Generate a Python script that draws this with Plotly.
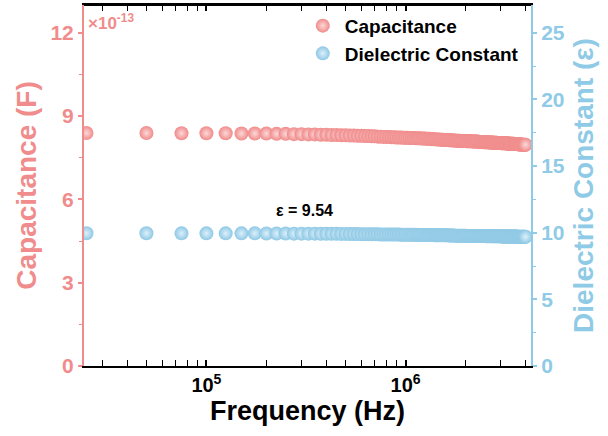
import plotly.graph_objects as go

# Frequency sweep (kHz)
freq_khz = [
    25, 50, 75, 100, 125, 150, 175, 200, 225, 250, 275, 300, 325, 350, 375, 400, 425, 450, 475, 500,
    525, 550, 575, 600, 625, 650, 675, 700, 725, 750, 775, 800, 825, 850, 875, 900, 925, 950, 975, 1000,
    1025, 1050, 1075, 1100, 1125, 1150, 1175, 1200, 1225, 1250, 1275, 1300, 1325, 1350, 1375, 1400, 1425, 1450, 1475, 1500,
    1525, 1550, 1575, 1600, 1625, 1650, 1675, 1700, 1725, 1750, 1775, 1800, 1825, 1850, 1875, 1900, 1925, 1950, 1975, 2000,
    2025, 2050, 2075, 2100, 2125, 2150, 2175, 2200, 2225, 2250, 2275, 2300, 2325, 2350, 2375, 2400, 2425, 2450, 2475, 2500,
    2525, 2550, 2575, 2600, 2625, 2650, 2675, 2700, 2725, 2750, 2775, 2800, 2825, 2850, 2875, 2900, 2925, 2950, 2975, 3000,
    3025, 3050, 3075, 3100, 3125, 3150, 3175, 3200, 3225, 3250, 3275, 3300, 3325, 3350, 3375, 3400, 3425, 3450, 3475, 3500,
    3525, 3550, 3575, 3600, 3625, 3650, 3675, 3700, 3725, 3750, 3775, 3800, 3825, 3850, 3875, 3900, 3925, 3950, 3975, 4000,
]

# Capacitance (x 1e-13 F)
capacitance_e13 = [
    8.39, 8.39, 8.38, 8.38, 8.38, 8.37, 8.37, 8.37, 8.36, 8.36, 8.35, 8.35, 8.34, 8.34, 8.33, 8.33, 8.32, 8.32, 8.31, 8.31,
    8.30, 8.30, 8.29, 8.29, 8.28, 8.28, 8.27, 8.27, 8.26, 8.26, 8.25, 8.25, 8.25, 8.24, 8.24, 8.23, 8.23, 8.23, 8.22, 8.22,
    8.22, 8.21, 8.21, 8.21, 8.20, 8.20, 8.20, 8.19, 8.19, 8.19, 8.18, 8.18, 8.18, 8.17, 8.17, 8.17, 8.16, 8.16, 8.16, 8.15,
    8.15, 8.15, 8.14, 8.14, 8.14, 8.13, 8.13, 8.13, 8.12, 8.12, 8.12, 8.11, 8.11, 8.11, 8.11, 8.10, 8.10, 8.10, 8.10, 8.10,
    8.09, 8.09, 8.09, 8.09, 8.09, 8.09, 8.08, 8.08, 8.08, 8.08, 8.08, 8.08, 8.07, 8.07, 8.07, 8.07, 8.07, 8.07, 8.06, 8.06,
    8.06, 8.06, 8.06, 8.06, 8.05, 8.05, 8.05, 8.05, 8.05, 8.05, 8.04, 8.04, 8.04, 8.04, 8.04, 8.03, 8.03, 8.03, 8.03, 8.03,
    8.02, 8.02, 8.02, 8.02, 8.02, 8.02, 8.02, 8.01, 8.01, 8.01, 8.01, 8.01, 8.01, 8.00, 8.00, 8.00, 8.00, 8.00, 8.00, 8.00,
    7.99, 7.99, 7.99, 7.99, 7.99, 7.99, 7.98, 7.98, 7.98, 7.98, 7.98, 7.98, 7.98, 7.97, 7.97, 7.97, 7.97, 7.97, 7.97, 7.97,
]

# Dielectric constant
dielectric = [
    9.96, 9.96, 9.95, 9.95, 9.95, 9.95, 9.95, 9.94, 9.94, 9.94, 9.93, 9.93, 9.93, 9.93, 9.92, 9.92, 9.92, 9.92, 9.91, 9.91,
    9.90, 9.90, 9.90, 9.89, 9.89, 9.89, 9.88, 9.88, 9.88, 9.87, 9.87, 9.87, 9.87, 9.86, 9.86, 9.86, 9.86, 9.85, 9.85, 9.85,
    9.84, 9.84, 9.84, 9.84, 9.84, 9.83, 9.83, 9.83, 9.83, 9.83, 9.82, 9.82, 9.82, 9.82, 9.82, 9.81, 9.81, 9.81, 9.81, 9.81,
    9.80, 9.80, 9.80, 9.80, 9.80, 9.79, 9.79, 9.79, 9.79, 9.79, 9.78, 9.78, 9.78, 9.78, 9.78, 9.77, 9.77, 9.77, 9.77, 9.77,
    9.76, 9.76, 9.76, 9.76, 9.76, 9.76, 9.76, 9.76, 9.76, 9.76, 9.75, 9.75, 9.75, 9.75, 9.75, 9.75, 9.75, 9.75, 9.75, 9.75,
    9.74, 9.74, 9.74, 9.74, 9.74, 9.74, 9.74, 9.74, 9.74, 9.74, 9.73, 9.73, 9.73, 9.73, 9.73, 9.73, 9.73, 9.73, 9.73, 9.73,
    9.72, 9.72, 9.72, 9.72, 9.72, 9.72, 9.72, 9.72, 9.72, 9.72, 9.71, 9.71, 9.71, 9.71, 9.71, 9.71, 9.71, 9.71, 9.71, 9.71,
    9.71, 9.71, 9.71, 9.71, 9.71, 9.70, 9.70, 9.70, 9.70, 9.70, 9.70, 9.70, 9.70, 9.70, 9.70, 9.70, 9.70, 9.70, 9.70, 9.70,
]

left_ticks = [0, 3, 6, 9, 12]
right_ticks = [0, 5, 10, 15, 20, 25]
x_tick_vals = [1e5, 1e6]
x_tick_text = ["10<sup>5</sup>", "10<sup>6</sup>"]
x_minor_vals = [3e4, 4e4, 5e4, 6e4, 7e4, 8e4, 9e4,
                2e5, 3e5, 4e5, 5e5, 6e5, 7e5, 8e5, 9e5,
                2e6, 3e6, 4e6]

RED = "#f08c8c"
BLUE = "#8fcbe6"
FONT = "Liberation Sans, Arial, sans-serif"

freq_hz = [f * 1e3 for f in freq_khz]
cap_f = [c * 1e-13 for c in capacitance_e13]

fig = go.Figure()
fig.add_trace(go.Scatter(
    x=freq_hz, y=cap_f, mode="markers", name="Capacitance",
    marker=dict(size=14, color="#f08a8a", gradient=dict(type="radial", color="#fcd8d8"),
                line=dict(width=0)),
    yaxis="y", cliponaxis=True,
))
fig.add_trace(go.Scatter(
    x=freq_hz, y=dielectric, mode="markers", name="Dielectric Constant",
    marker=dict(size=14, color="#8ec8e5", gradient=dict(type="radial", color="#dcf0fa"),
                line=dict(width=0)),
    yaxis="y2", cliponaxis=True,
))

fig.update_layout(
    width=608, height=436,
    margin=dict(l=84, r=77, t=5, b=70, autoexpand=False),
    paper_bgcolor="white", plot_bgcolor="white",
    font=dict(family=FONT, size=16, color="black", weight="bold"),
    showlegend=True,
    legend=dict(x=0.485, y=0.995, xanchor="left", yanchor="top",
                bgcolor="rgba(0,0,0,0)", font=dict(size=19, color="black", family=FONT, weight="bold"),
                itemsizing="trace", tracegroupgap=0, itemwidth=34),
    xaxis=dict(
        type="log", range=[4.3856, 6.6294], automargin=False,
        tickvals=x_tick_vals, ticktext=x_tick_text,
        ticks="inside", ticklen=6, tickwidth=1.5, tickcolor="black",
        showline=True, linecolor="black", linewidth=2, mirror="allticks",
        showgrid=False, zeroline=False,
        minor=dict(tickvals=x_minor_vals, ticks="inside", ticklen=4, tickwidth=1.2,
                   tickcolor="black", showgrid=False),
        tickfont=dict(size=20, color="black", family=FONT, weight="bold"),
        title=dict(text="Frequency (Hz)", font=dict(size=27, color="black", family=FONT, weight="bold"),
                   standoff=4),
    ),
    yaxis=dict(
        range=[0, 13e-13], automargin=False,
        tickvals=[v * 1e-13 for v in left_ticks], ticktext=[str(v) for v in left_ticks],
        ticks="outside", ticklen=4, tickwidth=1.5, tickcolor=RED,
        showline=True, linecolor=RED, linewidth=2,
        showgrid=False, zeroline=False,
        minor=dict(ticks="outside", ticklen=3, tickwidth=1.2, tickcolor=RED, dtick=1.5e-13, showgrid=False),
        tickfont=dict(size=21, color=RED, family=FONT, weight="bold"),
        title=dict(text="Capacitance (F)", font=dict(size=28, color=RED, family=FONT, weight="bold"),
                   standoff=6),
    ),
    yaxis2=dict(
        overlaying="y", side="right", range=[0, 25 * 13 / 12], automargin=False,
        tickvals=right_ticks, ticktext=[str(v) for v in right_ticks],
        ticks="outside", ticklen=4, tickwidth=1.5, tickcolor=BLUE,
        showline=True, linecolor=BLUE, linewidth=2,
        showgrid=False, zeroline=False,
        minor=dict(ticks="outside", ticklen=3, tickwidth=1.2, tickcolor=BLUE, dtick=2.5, showgrid=False),
        tickfont=dict(size=21, color=BLUE, family=FONT, weight="bold"),
        title=dict(text="Dielectric Constant (ε)", font=dict(size=28, color=BLUE, family=FONT, weight="bold"),
                   standoff=10),
    ),
    shapes=[
        dict(type="line", xref="paper", yref="paper", x0=0, x1=1, y0=1, y1=1,
             line=dict(color="black", width=2), layer="above"),
    ],
    annotations=[
        dict(text="×10<sup>-13</sup>", xref="paper", yref="paper", x=0.004, y=0.99,
             xanchor="left", yanchor="top", showarrow=False,
             font=dict(size=17, color=RED, family=FONT, weight="bold")),
        dict(text="ε = 9.54", xref="paper", yref="paper", x=0.494, y=0.432,
             xanchor="center", yanchor="middle", showarrow=False,
             font=dict(size=16, color="black", family=FONT, weight="bold")),
    ],
)

fig.write_html("out.html", config={"displayModeBar": False},
               post_script="document.body.style.margin='0px';")
